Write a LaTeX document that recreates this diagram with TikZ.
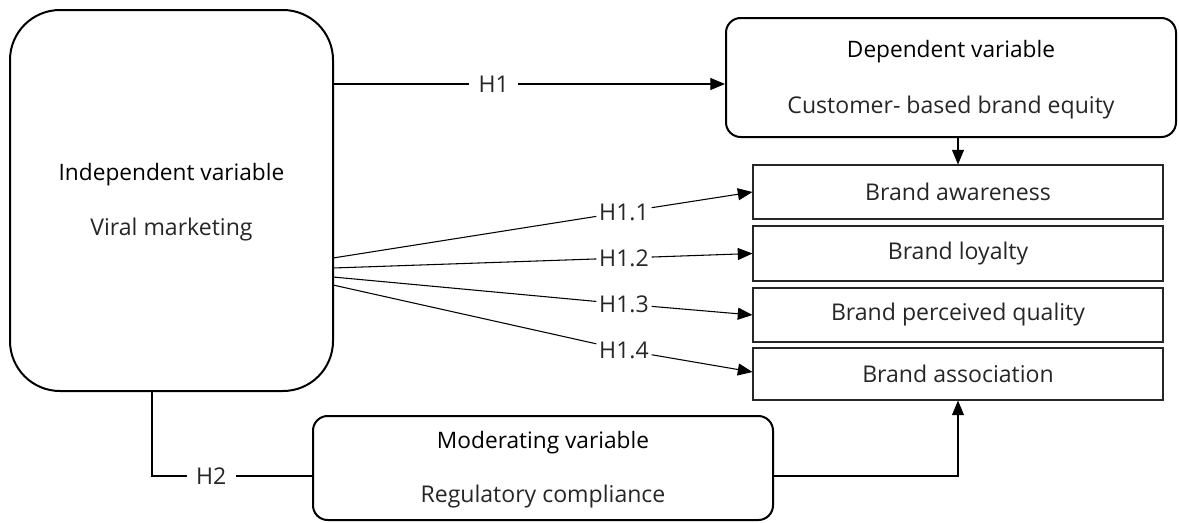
\documentclass[tikz,border=0pt]{standalone}
\usepackage{fontspec}
\setmainfont{Open Sans}
\usetikzlibrary{arrows.meta}
\tikzset{
 rbox/.style={draw, line width=1.5pt, rounded corners=11pt, inner sep=0pt},
 sbox/.style={draw, draw=black!85, line width=0.8pt, inner sep=0pt, minimum width=307.5pt},
 head/.style={font=\fontsize{17}{20}\selectfont, text=black, inner sep=0pt},
 body/.style={font=\fontsize{17.3}{20}\selectfont, text=black!85, inner sep=0pt},
 conn/.style={line width=0.8pt},
 arr/.style={conn, -{Triangle[length=11pt,width=9pt]}},
 hlab/.style={body, inner sep=2pt},
 hgap/.style={hlab, fill=white, inner xsep=7pt}
}
\begin{document}
\begin{tikzpicture}[x=0.75pt,y=-0.75pt]
\useasboundingbox (0,0) rectangle (1179,522);
% boxes
\node[rbox, rounded corners=37.5pt, minimum width=242.25pt, minimum height=285.75pt] (ind) at (171.5,200.5) {};
\node[head] (indH) at (171.5,175) {Independent variable};
\node[body] (indB) at (171.5,230) {Viral marketing};

\node[rbox, minimum width=337.5pt, minimum height=89.25pt] (dep) at (951,77.5) {};
\node[head] (depH) at (951,52) {Dependent variable};
\node[body] (depB) at (951,108) {Customer- based brand equity};

\node[sbox, minimum height=40.5pt] (aw) at (958,192) {};
\node[body] (awT) at (958,192) {Brand awareness};
\node[sbox, minimum height=41.25pt] (loy) at (958,253.5) {};
\node[body] (loyT) at (958,253.5) {Brand loyalty};
\node[sbox, minimum height=40.5pt] (per) at (958,315) {};
\node[body] (perT) at (958,315) {Brand perceived quality};
\node[sbox, minimum height=39pt] (asc) at (958,374) {};
\node[body] (ascT) at (958,374) {Brand association};

\node[rbox, minimum width=345pt, minimum height=78pt] (mod) at (543,468) {};
\node[head] (modH) at (543,443) {Moderating variable};
\node[body] (modB) at (543,497) {Regulatory compliance};

% H1
\coordinate (h1) at (333,84);
\draw[arr] (h1) -- node[hgap, pos=0.41] (h1l) {H1} (h1 -| dep.west);
\draw[arr] (aw.north |- dep.south) -- (aw.north);

% H1.x
\coordinate (s1) at (333,258);
\coordinate (s2) at (333,268);
\coordinate (s3) at (333,277);
\coordinate (s4) at (333,285);
\node[hlab] (l1) at (624,212) {H1.1};
\node[hlab] (l2) at (624,258) {H1.2};
\node[hlab] (l3) at (624,304) {H1.3};
\node[hlab] (l4) at (624,350) {H1.4};
\draw[arr] (s1) -- (l1) -- (aw.west);
\draw[arr] (s2) -- (l2) -- (loy.west);
\draw[arr] (s3) -- (l3) -- (per.west);
\draw[arr] (s4) -- (l4) -- ([yshift=1.5pt]asc.west);

% H2
\coordinate (h2a) at (152,476);
\draw[conn] (ind.south -| h2a) -- (h2a) -- node[hgap, pos=0.37] (h2l) {H2} (h2a -| mod.west);
\draw[arr] (mod.east |- h2a) -| (asc.south);
\end{tikzpicture}
\end{document}
